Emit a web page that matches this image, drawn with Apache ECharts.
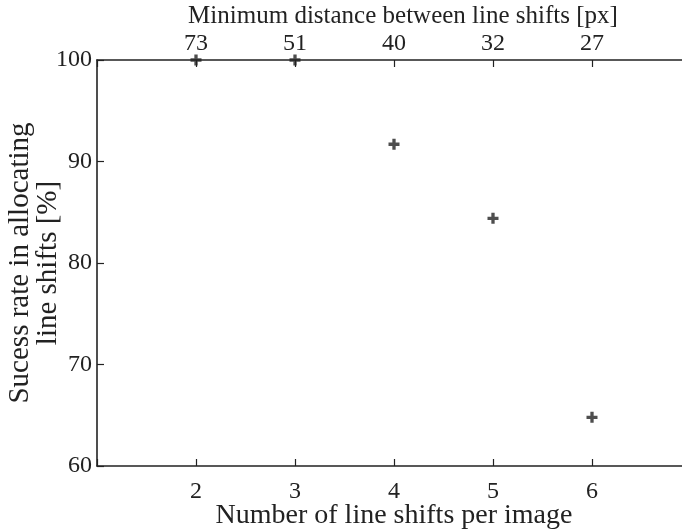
<!DOCTYPE html>
<html>
<head>
<meta charset="utf-8">
<script src="https://cdn.jsdelivr.net/npm/echarts@6/dist/echarts.min.js"></script>
<style>
html,body{margin:0;padding:0;background:#fff;}
#chart{width:682px;height:531px;}
</style>
</head>
<body>
<div id="chart"></div>
<script>
// Data
var lineShifts = [2, 3, 4, 5, 6];
var successRate = [100, 100, 91.7, 84.4, 64.8];
var minDistance = [73, 51, 40, 32, 27];
var yTicks = [60, 70, 80, 90, 100];

var FONT = 'Liberation Serif';
var INK = '#222';

var chart = echarts.init(document.getElementById('chart'), null, {renderer: 'canvas'});

var distMap = {};
lineShifts.forEach(function (v, i) { distMap[v] = minDistance[i]; });

var points = lineShifts.map(function (v, i) { return [v, successRate[i]]; });

var axisCommon = {
  nameMoveOverlap: false,
  axisLine: {show: true, lineStyle: {color: INK, width: 1.6}},
  axisTick: {show: true, inside: true, length: 7, lineStyle: {color: INK, width: 1.2}},
  splitLine: {show: false},
  axisLabel: {color: INK, fontFamily: FONT, fontSize: 24},
  nameTextStyle: {color: INK, fontFamily: FONT, fontSize: 26}
};

chart.setOption({
  backgroundColor: '#fff',
  animation: false,
  grid: {left: 97, right: -9, top: 60, bottom: 65, containLabel: false, outerBoundsMode: 'none'},
  xAxis: [
    Object.assign({}, axisCommon, {
      type: 'value', position: 'bottom', min: 1, max: 7, interval: 1,
      name: 'Number of line shifts per image', nameLocation: 'middle', nameGap: 36,
      nameTextStyle: Object.assign({}, axisCommon.nameTextStyle, {fontSize: 28}),
      axisLabel: Object.assign({}, axisCommon.axisLabel, {
        margin: 14,
        formatter: function (v) { return lineShifts.indexOf(v) >= 0 ? String(v) : ''; }
      })
    }),
    Object.assign({}, axisCommon, {
      type: 'value', position: 'top', min: 1, max: 7, interval: 1,
      name: 'Minimum distance between line shifts [px]', nameLocation: 'middle', nameGap: 31,
      nameTextStyle: Object.assign({}, axisCommon.nameTextStyle, {fontSize: 25, padding: [0, 0, 0, 18]}),
      axisLabel: Object.assign({}, axisCommon.axisLabel, {
        margin: 4,
        formatter: function (v) { return distMap[v] !== undefined ? String(distMap[v]) : ''; }
      })
    })
  ],
  yAxis: [
    Object.assign({}, axisCommon, {
      type: 'value', min: yTicks[0], max: yTicks[yTicks.length - 1], interval: 10,
      name: 'Sucess rate in allocating\nline shifts [%]', nameLocation: 'middle', nameGap: 35,
      nameTextStyle: Object.assign({}, axisCommon.nameTextStyle, {fontSize: 29, lineHeight: 28}),
      axisLabel: Object.assign({}, axisCommon.axisLabel, {margin: 5})
    })
  ],
  series: [{
    type: 'scatter',
    xAxisIndex: 0,
    data: points,
    symbol: 'path://M3.5,0H6.5V3.5H10V6.5H6.5V10H3.5V6.5H0V3.5H3.5Z',
    symbolSize: 11,
    itemStyle: {color: INK},
    clip: false,
    z: 5
  }]
});
</script>
</body>
</html>
